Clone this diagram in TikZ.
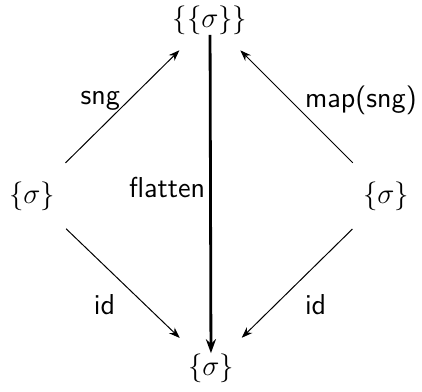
\documentclass[tikz,border=0pt]{standalone}
\usepackage{tikz}
\usetikzlibrary{arrows.meta,positioning}

\begin{document}
\begin{tikzpicture}[x=0.5pt, y=-0.5pt, >={Stealth[length=5.5pt,width=4pt]},
  every node/.style={inner sep=0pt, font=\fontsize{15.5}{18}\selectfont},
  lbl/.style={font=\Large\sffamily, inner sep=2pt},
  diag/.style={->, line width=0.5pt, shorten >=11pt, shorten <=13pt}]
  \useasboundingbox (0,0) rectangle (422,391);
  \node (top) at (210,20) {$\{\{\sigma\}\}$};
  \node (lft) at (32,196) {$\{\sigma\}$};
  \node (rgt) at (386,196) {$\{\sigma\}$};
  \node (bot) at (211,368) {$\{\sigma\}$};

  \draw[diag] (lft) -- node[lbl, left=2pt, pos=0.55]{sng} (top);
  \draw[diag] (rgt) -- node[lbl, right=5pt, pos=0.55]{map(sng)} (top);
  \draw[diag] (lft) -- node[lbl, below left=4pt and 1pt]{id} (bot);
  \draw[diag] (rgt) -- node[lbl, below right=4pt and 1pt]{id} (bot);
  \draw[-{Stealth[length=7pt,width=5pt]}, line width=1.4pt] (top) -- node[lbl, left, pos=0.48]{flatten} (bot);
\end{tikzpicture}
\end{document}
